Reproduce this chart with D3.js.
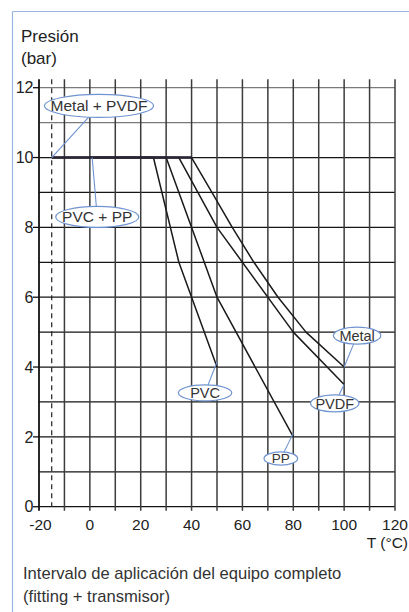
<!DOCTYPE html>
<html><head><meta charset="utf-8">
<script src="https://cdn.jsdelivr.net/npm/d3@7"></script>
<style>
html,body{margin:0;padding:0;background:#fff;}
svg{display:block;font-family:"Liberation Sans",Arial,Helvetica,sans-serif;}
</style></head>
<body>
<svg id="chart" width="409" height="612"></svg>
<script>
// ---- data ----
const tempTicks = [-20, 0, 20, 40, 60, 80, 100, 120];
const pressureTicks = [0, 2, 4, 6, 8, 10, 12];
const seriesNames = ["Metal", "PVDF", "PVC", "PP"];
const metalTemp = [-15, 40, 48, 56, 64.5, 74, 85, 100];
const metalBar  = [10, 10, 9, 8, 7, 6, 5, 4];
const pvdfTemp  = [-15, 35, 50, 80, 100];
const pvdfBar   = [10, 10, 8, 5, 3.5];
const pvcTemp   = [0, 25, 35, 50];
const pvcBar    = [10, 10, 7, 4];
const ppTemp    = [0, 30, 50, 80];
const ppBar     = [10, 10, 6, 2];
const minTemp = -15; // dashed limit
const labelTexts = ["Metal + PVDF", "PVC + PP", "Metal", "PVDF", "PVC", "PP"];

// ---- layout ----
const svg = d3.select("#chart");
const x = d3.scaleLinear().domain([-20, 120]).range([39, 395]);
const y = d3.scaleLinear().domain([0, 12]).range([506.7, 87.7]);

// frame (top + left light-blue border)
svg.append("line").attr("x1", 12.5).attr("x2", 409).attr("y1", 11.5).attr("y2", 11.5)
  .attr("stroke", "#9bb6e0").attr("stroke-width", 1.2);
svg.append("line").attr("x1", 12.5).attr("x2", 12.5).attr("y1", 11.5).attr("y2", 612)
  .attr("stroke", "#9bb6e0").attr("stroke-width", 1.2);

// title
const title = svg.append("text").attr("x", 21).attr("fill", "#222").attr("font-size", 17);
title.append("tspan").attr("x", 21).attr("y", 41.7).text("Presión");
title.append("tspan").attr("x", 21).attr("y", 63.5).text("(bar)");

// grid
const minorT = d3.range(-20, 121, 10);
const minorP = d3.range(0, 13, 1);
svg.append("g").selectAll("line").data(minorP).join("line")
  .attr("x1", x(-20)).attr("x2", x(120))
  .attr("y1", d => y(d)).attr("y2", d => y(d))
  .attr("stroke", d => d > 10 ? "#7a7a7a" : "#151515")
  .attr("stroke-width", 1.3);
svg.append("g").selectAll("line").data(minorT).join("line")
  .attr("x1", d => x(d)).attr("x2", d => x(d))
  .attr("y1", y(12) - 8.5).attr("y2", y(0) + 4)
  .attr("stroke", d => d === -20 ? "#111" : "#3c3c3c")
  .attr("stroke-width", d => d === -20 ? 1.8 : 1.5);

// axis ticks on y
svg.append("g").selectAll("line").data(pressureTicks).join("line")
  .attr("x1", x(-20) - 6).attr("x2", x(-20))
  .attr("y1", d => y(d)).attr("y2", d => y(d))
  .attr("stroke", "#111").attr("stroke-width", 1.3);

// axis labels
svg.append("g").selectAll("text").data(pressureTicks).join("text")
  .attr("x", 33.5).attr("y", d => y(d)).attr("dy", "0.36em")
  .attr("text-anchor", "end").attr("font-size", 16).attr("fill", "#222")
  .text(d => d);
svg.append("g").selectAll("text").data(tempTicks).join("text")
  .attr("x", d => x(d) + (d === -20 ? 1.5 : 0)).attr("y", 529.5)
  .attr("text-anchor", "middle").attr("font-size", 15.5).attr("fill", "#222")
  .text(d => d);
svg.append("text").attr("x", 408).attr("y", 548).attr("text-anchor", "end")
  .attr("font-size", 15.5).attr("fill", "#222").text("T (°C)");

// dashed min temperature
svg.append("line").attr("x1", x(minTemp)).attr("x2", x(minTemp))
  .attr("y1", y(12) - 8.5).attr("y2", y(0))
  .attr("stroke", "#222").attr("stroke-width", 1.2).attr("stroke-dasharray", "5,4");

// series
const series = [
  {name: seriesNames[0], t: metalTemp, p: metalBar},
  {name: seriesNames[1], t: pvdfTemp, p: pvdfBar},
  {name: seriesNames[2], t: pvcTemp, p: pvcBar},
  {name: seriesNames[3], t: ppTemp, p: ppBar}
];
const line = d3.line().x(d => x(d[0])).y(d => y(d[1]));
svg.append("g").selectAll("path").data(series).join("path")
  .attr("d", s => line(s.t.map((t, i) => [t, s.p[i]])))
  .attr("fill", "none").attr("stroke", "#1a1a1a").attr("stroke-width", 1.5)
  .attr("stroke-linejoin", "round");
// emphasised common plateau
svg.append("path").attr("d", line([[minTemp, 10], [40, 10]]))
  .attr("stroke", "#2a2433").attr("stroke-width", 2.4).attr("fill", "none");

// annotations (anchor in data coords, label centre in data coords, ellipse radii px)
const labels = [
  {text: labelTexts[0], ax: -15, ap: 10, cx: 3.6, cp: 11.48, rx: 54.5, ry: 11.5, fs: 15.5},
  {text: labelTexts[1], ax: 0.9, ap: 10, cx: 2.9, cp: 8.30, rx: 41.5, ry: 10.5, fs: 15.5},
  {text: labelTexts[2], ax: 100, ap: 4, cx: 105.1, cp: 4.90, rx: 23.7, ry: 8.5, fs: 14.5},
  {text: labelTexts[3], ax: 100, ap: 3.5, cx: 96.3, cp: 2.96, rx: 24.2, ry: 8.5, fs: 14.5},
  {text: labelTexts[4], ax: 50, ap: 4.15, cx: 45.3, cp: 3.26, rx: 26.7, ry: 8, fs: 14.5},
  {text: labelTexts[5], ax: 80, ap: 2.1, cx: 75.1, cp: 1.38, rx: 16.8, ry: 6.6, fs: 13.5}
];
const ann = svg.append("g").selectAll("g").data(labels).join("g");
ann.append("line")
  .attr("x1", d => x(d.ax)).attr("y1", d => y(d.ap))
  .attr("x2", d => x(d.cx)).attr("y2", d => y(d.cp))
  .attr("stroke", "#6f93d0").attr("stroke-width", 1.1);
ann.append("ellipse")
  .attr("cx", d => x(d.cx)).attr("cy", d => y(d.cp))
  .attr("rx", d => d.rx).attr("ry", d => d.ry)
  .attr("fill", "#fff").attr("stroke", "#6f93d0").attr("stroke-width", 1.2);
ann.append("text")
  .attr("x", d => x(d.cx)).attr("y", d => y(d.cp)).attr("dy", "0.36em")
  .attr("text-anchor", "middle").attr("font-size", d => d.fs).attr("fill", "#333")
  .text(d => d.text);

// footer
const foot = svg.append("text").attr("font-size", 16.6).attr("fill", "#333");
foot.append("tspan").attr("x", 23).attr("y", 579).text("Intervalo de aplicación del equipo completo");
foot.append("tspan").attr("x", 23).attr("y", 601.5).text("(fitting + transmisor)");
</script>
</body></html>
